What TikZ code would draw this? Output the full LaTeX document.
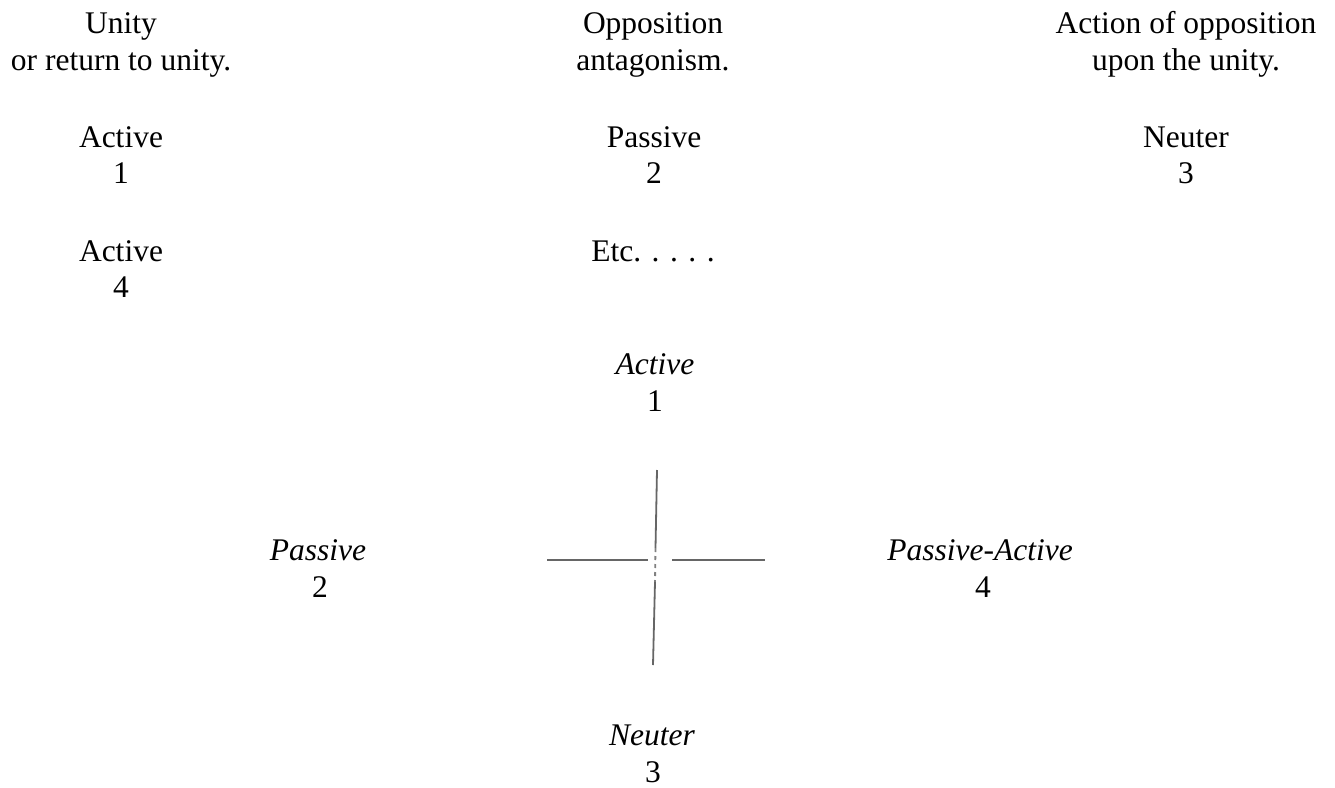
\documentclass[tikz,border=0pt]{standalone}
\usepackage{fontspec}
\setmainfont{Liberation Serif}
\begin{document}
\begin{tikzpicture}[x=1pt,y=-1pt,
  lbl/.style={inner sep=0pt,anchor=base,font=\fontsize{31.5}{37}\selectfont},
  crossline/.style={draw=black!60,line width=1.8pt}]
\useasboundingbox (0,0) rectangle (1335,787);
% top rows
\node[lbl] (unityA) at (121,33) {Unity};
\node[lbl] (unityB) at (121,70) {or return to unity.};
\node[lbl] (oppA) at (653,33) {Opposition};
\node[lbl] (oppB) at (653,70) {antagonism.};
\node[lbl] (actA) at (1186,33) {Action of opposition};
\node[lbl] (actB) at (1186,70) {upon the unity.};
\node[lbl] (a1A) at (121,147) {Active};
\node[lbl] (a1B) at (121,183) {1};
\node[lbl] (p2A) at (654,147) {Passive};
\node[lbl] (p2B) at (654,183) {2};
\node[lbl] (n3A) at (1186,147) {Neuter};
\node[lbl] (n3B) at (1186,183) {3};
\node[lbl] (a4A) at (121,261) {Active};
\node[lbl] (a4B) at (121,297) {4};
\node[lbl] (etc) at (653,261) {Etc. . . . .};
% cross figure labels
\node[lbl] (ca1A) at (655,374) {\textit{Active}};
\node[lbl] (ca1B) at (655,411) {1};
\node[lbl] (cp2A) at (318,560) {\textit{Passive}};
\node[lbl] (cp2B) at (320,597) {2};
\node[lbl] (cpa4A) at (980,560) {\textit{Passive-Active}};
\node[lbl] (cpa4B) at (983,597) {4};
\node[lbl] (cn3A) at (652,745) {\textit{Neuter}};
\node[lbl] (cn3B) at (653,782) {3};
% cross
\coordinate (vt) at (657,470);
\coordinate (vm1) at (655.5,548);
\coordinate (vm2) at (655,582);
\coordinate (vb) at (653,665);
\coordinate (hl1) at (547,560);
\coordinate (hl2) at (648,560);
\coordinate (hr1) at (672,560);
\coordinate (hr2) at (765,560);
\draw[crossline] (vt) -- (vm1);
\draw[crossline,draw=black!50,dash pattern=on 4pt off 4pt] (vm1) -- (vm2);
\draw[crossline] (vm2) -- (vb);
\draw[crossline] (hl1) -- (hl2);
\draw[crossline] (hr1) -- (hr2);
\end{tikzpicture}
\end{document}
